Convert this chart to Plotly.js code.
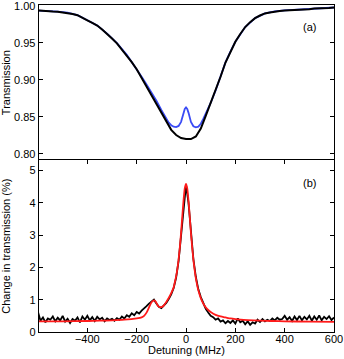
<!DOCTYPE html>
<html>
<head>
<meta charset="utf-8">
<script src="https://cdn.plot.ly/plotly-3.0.1.min.js"></script>
<style>
  body { margin: 0; background: #fff; }
  #chart { width: 344px; height: 359px; }
</style>
</head>
<body>
<div id="chart"></div>
<script>
// (a) transmission, probe only (black) and with coupling (blue)
var detA = [-600, -580, -560, -540, -520, -500, -480, -460, -440, -420, -400, -380, -360, -340, -320, -300,
    -280, -260, -240, -220, -200, -180, -160, -140, -120, -100, -80, -60, -40, -20, 0, 20, 40, 60, 80, 100,
    120, 140, 160, 180, 200, 220, 240, 260, 280, 300, 320, 340, 360, 380, 400, 420, 440, 460, 480, 500,
    520, 540, 560, 580, 600];
var transBlack = [0.9935, 0.9928, 0.9931, 0.9922, 0.9920, 0.9912, 0.9906, 0.9888, 0.9872, 0.9833, 0.9802,
    0.9768, 0.9732, 0.9678, 0.9622, 0.9558, 0.9492, 0.9408, 0.9332, 0.9238, 0.9142, 0.9024, 0.8916,
    0.8798, 0.8682, 0.8558, 0.8442, 0.8322, 0.8252, 0.8212, 0.8200, 0.8198, 0.8232, 0.8340, 0.8512,
    0.8682, 0.8852, 0.9040, 0.9232, 0.9378, 0.9512, 0.9618, 0.9712, 0.9778, 0.9832, 0.9868, 0.9896,
    0.9908, 0.9922, 0.9928, 0.9936, 0.9938, 0.9946, 0.9947, 0.9953, 0.9954, 0.9961, 0.9962, 0.9969,
    0.9971, 0.9976];

var detBlue = [-600, -560, -520, -480, -440, -400, -360, -320, -280, -240, -200, -180, -160, -140, -120, -100,
    -80, -70, -60, -50, -40, -30, -20, -15, -10, -5, 0, 5, 10, 15, 20, 30, 40, 50, 60, 70, 80, 90, 100,
    120, 140, 160, 180, 200, 240, 280, 320, 360, 400, 440, 480, 520, 560, 600];
var transBlue = [0.9935, 0.9931, 0.9921, 0.9906, 0.9873, 0.9803, 0.9734, 0.9624, 0.9495, 0.9336, 0.9148,
    0.9040, 0.8935, 0.8830, 0.8715, 0.8590, 0.8470, 0.8420, 0.8385, 0.8365, 0.8360, 0.8375, 0.8430,
    0.8490, 0.8555, 0.8605, 0.8625, 0.8605, 0.8555, 0.8490, 0.8430, 0.8370, 0.8355, 0.8365, 0.8405,
    0.8470, 0.8540, 0.8610, 0.8685, 0.8855, 0.9042, 0.9234, 0.9380, 0.9513, 0.9713, 0.9833, 0.9897,
    0.9923, 0.9937, 0.9946, 0.9954, 0.9961, 0.9969, 0.9976];

// (b) change in transmission, measured (black) and fit (red)
var detB = [];
for (var d = -600; d <= 600; d += 10) detB.push(d);
var changeMeas = [0.62, 0.35, 0.45, 0.30, 0.42, 0.38, 0.48, 0.33, 0.44, 0.36, 0.50, 0.32, 0.41, 0.28, 0.40,
    0.35, 0.45, 0.30, 0.48, 0.38, 0.50, 0.36, 0.46, 0.34, 0.47, 0.39, 0.44, 0.33, 0.42, 0.37, 0.41,
    0.35, 0.43, 0.38, 0.48, 0.42, 0.52, 0.47, 0.58, 0.52, 0.62, 0.57, 0.66, 0.72, 0.80, 0.88, 0.95,
    1.00, 0.88, 0.78, 0.74, 0.82, 0.90, 1.02, 1.16, 1.36, 1.68, 2.20, 3.00, 3.95, 4.55, 4.00, 3.05,
    2.25, 1.70, 1.32, 1.08, 0.90, 0.72, 0.60, 0.50, 0.46, 0.38, 0.42, 0.32, 0.36, 0.27, 0.34, 0.28,
    0.36, 0.26, 0.42, 0.30, 0.35, 0.24, 0.33, 0.22, 0.30, 0.26, 0.38, 0.31, 0.40, 0.33, 0.38, 0.34,
    0.42, 0.36, 0.44, 0.38, 0.40, 0.50, 0.38, 0.46, 0.34, 0.48, 0.37, 0.50, 0.36, 0.47, 0.39, 0.50,
    0.35, 0.48, 0.38, 0.51, 0.36, 0.47, 0.40, 0.49, 0.37, 0.45];

var detFit = [-600, -500, -400, -350, -300, -250, -200, -180, -170, -160, -150, -140, -130, -125, -120, -115,
    -110, -105, -100, -90, -80, -70, -60, -50, -45, -40, -35, -30, -25, -20, -15, -10, -5, 0, 5, 10, 15,
    20, 25, 30, 35, 40, 50, 60, 70, 80, 90, 100, 120, 140, 160, 180, 200, 250, 300, 350, 400, 500, 600];
var changeFit = [0.33, 0.33, 0.34, 0.35, 0.36, 0.38, 0.42, 0.45, 0.50, 0.60, 0.76, 0.92, 0.98, 0.96, 0.90,
    0.83, 0.78, 0.77, 0.77, 0.82, 0.93, 1.05, 1.20, 1.38, 1.55, 1.72, 1.95, 2.25, 2.62, 3.07, 3.58,
    4.07, 4.44, 4.58, 4.44, 4.07, 3.58, 3.07, 2.62, 2.23, 1.92, 1.66, 1.29, 1.05, 0.88, 0.76, 0.68,
    0.62, 0.53, 0.48, 0.45, 0.42, 0.40, 0.37, 0.35, 0.34, 0.33, 0.32, 0.31];

var txtFont = {family: 'Liberation Sans, Arial, sans-serif', size: 11, color: '#000'};

var data = [
    {x: detBlue, y: transBlue, type: 'scatter', mode: 'lines', xaxis: 'x', yaxis: 'y',
     line: {color: '#3b4cf5', width: 1.8}},
    {x: detA, y: transBlack, type: 'scatter', mode: 'lines', xaxis: 'x', yaxis: 'y',
     line: {color: '#000', width: 2}},
    {x: detB, y: changeMeas, type: 'scatter', mode: 'lines', xaxis: 'x2', yaxis: 'y2',
     line: {color: '#000', width: 1.8}},
    {x: detFit, y: changeFit, type: 'scatter', mode: 'lines', xaxis: 'x2', yaxis: 'y2',
     line: {color: '#ff1a1a', width: 1.8, shape: 'spline', smoothing: 0.6}}
];

var layout = {
    width: 344,
    height: 359,
    margin: {l: 39, r: 10, t: 5, b: 27},
    paper_bgcolor: '#fff',
    plot_bgcolor: '#fff',
    showlegend: false,
    font: txtFont,
    xaxis: {
        domain: [0, 1], range: [-596, 600], anchor: 'y', side: 'top', matches: 'x2',
        showline: true, mirror: false, linecolor: '#000', linewidth: 1.3,
        ticks: '', showticklabels: false, showgrid: false, zeroline: false
    },
    yaxis: {
        domain: [0.525, 1], range: [0.791, 1.001],
        tickvals: [0.80, 0.85, 0.90, 0.95, 1.00], tickformat: '.2f',
        ticklabeloverflow: 'allow',
        ticks: 'inside', ticklen: 4, tickcolor: '#000', tickwidth: 1,
        showline: true, mirror: 'ticks', linecolor: '#000', linewidth: 1.3,
        showgrid: false, zeroline: false,
        title: {text: 'Transmission', font: txtFont}
    },
    xaxis2: {
        domain: [0, 1], range: [-596, 600], anchor: 'y2',
        tickvals: [-400, -200, 0, 200, 400, 600],
        ticklabeloverflow: 'allow', ticklabelstandoff: -4,
        ticks: 'inside', ticklen: 4, tickcolor: '#000', tickwidth: 1,
        showline: true, mirror: 'ticks', linecolor: '#000', linewidth: 1.3,
        showgrid: false, zeroline: false,
        title: {text: 'Detuning (MHz)', font: txtFont, standoff: 0}
    },
    yaxis2: {
        domain: [0, 0.525], range: [0, 5.31],
        tickvals: [0, 1, 2, 3, 4, 5],
        ticklabeloverflow: 'allow',
        ticks: 'inside', ticklen: 4, tickcolor: '#000', tickwidth: 1,
        showline: true, mirror: 'ticks', linecolor: '#000', linewidth: 1.3,
        showgrid: false, zeroline: false,
        title: {text: 'Change in transmission (%)', font: txtFont}
    },
    annotations: [
        {text: '(a)', x: 500, y: 0.9716, xref: 'x', yref: 'y', showarrow: false, font: txtFont},
        {text: '(b)', x: 500, y: 4.62, xref: 'x2', yref: 'y2', showarrow: false, font: txtFont}
    ]
};

Plotly.newPlot('chart', data, layout, {displayModeBar: false, staticPlot: true});
</script>
</body>
</html>
